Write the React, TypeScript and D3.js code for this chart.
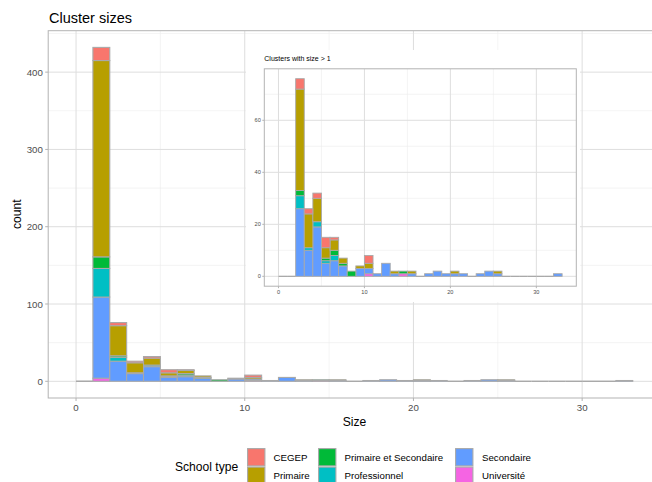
import React from "react";
import * as d3 from "d3";

// bins [k, k+1] for k = 0..32, holding clusters of size k
const binStarts: number[] = d3.range(0, 33);
const types = ["CEGEP", "Primaire", "Primaire et Secondaire", "Professionnel", "Secondaire", "Université"];
const colors = ["#F8766D", "#B79F00", "#00BA38", "#00BFC4", "#619CFF", "#F564E3"];

const cegep = [0,17,4,2,2,4,1,0,0,0,3,0,0,0,0,0,0,0,0,0,0,0,0,0,0,0,0,0,0,0,0,0,0];
const primaire = [0,254,39,13,9,4,4,2,0,1,2,0,0,1,0,1,0,0,0,0,1,0,0,0,0,1,0,0,0,0,0,0,0];
const primSec = [0,15,2,0,0,1,2,1,2,0,0,0,0,0,1,0,0,0,0,0,0,0,0,0,0,0,0,0,0,0,0,0,0];
const professionnel = [0,37,5,1,2,1,2,0,0,0,0,0,0,0,0,0,0,0,0,0,0,0,0,0,0,0,0,0,0,0,0,0,0];
const secondaire = [0,105,26,10,19,5,6,4,0,3,2,1,5,1,0,1,0,1,2,1,1,1,0,1,2,1,0,0,0,0,0,0,1];
const universite = [0,4,0,0,0,0,0,0,0,0,1,0,0,0,1,0,0,0,0,0,0,0,0,0,0,0,0,0,0,0,0,0,0];

const series = [cegep, primaire, primSec, professionnel, secondaire, universite];

const xTicks = [0, 10, 20, 30];
const xMinor = [5, 15, 25];
const mainYTicks = [0, 100, 200, 300, 400];
const mainYMinor = [50, 150, 250, 350, 450];
const insetYTicks = [0, 20, 40, 60];
const insetYMinor = [10, 30, 50, 70];

const FONT = "'Liberation Sans', Arial, Helvetica, sans-serif";
const STROKE = "#A9A9A9";

type PanelProps = {
  minSize: number;
  left: number; right: number; top: number; bottom: number;
  yMax: number;
  yTicks: number[]; yMinor: number[];
  tickFont: number; tickLen: number; tickGap: number;
  strokeW: number;
};

function Panel(p: PanelProps) {
  const rows = binStarts.map((b, i) => {
    const r: any = { bin: b };
    types.forEach((t, j) => { r[t] = b >= p.minSize ? series[j][i] : 0; });
    return r;
  });
  const stackKeys = [...types].reverse();
  const stacked = d3.stack<any>().keys(stackKeys)(rows);
  const x = d3.scaleLinear().domain([-0.05 * 33, 33 * 1.05]).range([p.left, p.right]);
  const y = d3.scaleLinear().domain([-0.05 * p.yMax, 1.05 * p.yMax]).range([p.bottom, p.top]);
  const clipId = "clip" + p.minSize;
  return (
    <g>
      <defs>
        <clipPath id={clipId}>
          <rect x={p.left} y={p.top} width={p.right - p.left} height={p.bottom - p.top} />
        </clipPath>
      </defs>
      <rect x={p.left} y={p.top} width={p.right - p.left} height={p.bottom - p.top} fill="white" />
      <g clipPath={`url(#${clipId})`}>
        {xMinor.map((v) => (
          <line key={"xm" + v} x1={x(v)} x2={x(v)} y1={p.top} y2={p.bottom} stroke="#EDEDED" strokeWidth={0.6} />
        ))}
        {p.yMinor.map((v) => (
          <line key={"ym" + v} x1={p.left} x2={p.right} y1={y(v)} y2={y(v)} stroke="#EDEDED" strokeWidth={0.6} />
        ))}
        {xTicks.map((v) => (
          <line key={"xM" + v} x1={x(v)} x2={x(v)} y1={p.top} y2={p.bottom} stroke="#DEDEDE" strokeWidth={1} />
        ))}
        {p.yTicks.map((v) => (
          <line key={"yM" + v} x1={p.left} x2={p.right} y1={y(v)} y2={y(v)} stroke="#DEDEDE" strokeWidth={1} />
        ))}
        {stacked.map((s) => {
          const ti = types.indexOf(s.key);
          return s.map((d, i) => {
            const v = d[1] - d[0];
            if (v <= 0) return null;
            return (
              <rect key={s.key + i} x={x(rows[i].bin)} width={x(rows[i].bin + 1) - x(rows[i].bin)}
                y={y(d[1])} height={y(d[0]) - y(d[1])} fill={colors[ti]} stroke={STROKE} strokeWidth={p.strokeW} />
            );
          });
        })}
        {rows.map((r, i) => {
          const total = types.reduce((a, t) => a + r[t], 0);
          if (total > 0) return null;
          return (
            <line key={"z" + i} x1={x(r.bin)} x2={x(r.bin + 1)} y1={y(0)} y2={y(0)} stroke={STROKE} strokeWidth={p.strokeW * 1.3} />
          );
        })}
      </g>
      <rect x={p.left} y={p.top} width={p.right - p.left} height={p.bottom - p.top} fill="none" stroke="#B3B3B3" strokeWidth={1} />
      {xTicks.map((v) => (
        <g key={"xt" + v}>
          <line x1={x(v)} x2={x(v)} y1={p.bottom} y2={p.bottom + p.tickLen} stroke="#B3B3B3" strokeWidth={1} />
          <text x={x(v)} y={p.bottom + p.tickLen + p.tickGap + p.tickFont * 0.75} textAnchor="middle"
            fontSize={p.tickFont} fill="#4D4D4D" fontFamily={FONT}>{v}</text>
        </g>
      ))}
      {p.yTicks.map((v) => (
        <g key={"yt" + v}>
          <line x1={p.left - p.tickLen} x2={p.left} y1={y(v)} y2={y(v)} stroke="#B3B3B3" strokeWidth={1} />
          <text x={p.left - p.tickLen - p.tickGap} y={y(v) + p.tickFont * 0.36} textAnchor="end"
            fontSize={p.tickFont} fill="#4D4D4D" fontFamily={FONT}>{v}</text>
        </g>
      ))}
    </g>
  );
}

export default function App() {
  const keySize = 18.5;
  const legendCols = [
    { keyX: 247, labelX: 273.5 },
    { keyX: 318, labelX: 344.5 },
    { keyX: 455, labelX: 482 },
  ];
  const legendRowY = [448, 466.5];
  return (
    <svg width={652} height={482} style={{ position: "absolute", left: 0, top: 0 }} fontFamily={FONT}>
      <rect x={0} y={0} width={652} height={482} fill="white" />
      <text x={49} y={22.5} fontSize={14.5} fill="#000">Cluster sizes</text>
      <Panel minSize={0} left={48.2} right={660.6} top={30.7} bottom={398} yMax={432}
        yTicks={mainYTicks} yMinor={mainYMinor} tickFont={9.7} tickLen={3} tickGap={2.4} strokeW={1.1} />
      <text x={354.4} y={426} fontSize={12.1} textAnchor="middle" fill="#000">Size</text>
      <text transform="translate(21,214.3) rotate(-90)" fontSize={12.1} textAnchor="middle" fill="#000">count</text>

      {/* inset */}
      <rect x={246} y={50} width={334} height={252} fill="white" />
      <text x={264.3} y={60.5} fontSize={7} fill="#000">Clusters with size &gt; 1</text>
      <Panel minSize={2} left={264.3} right={576.3} top={68.8} bottom={286.2} yMax={76}
        yTicks={insetYTicks} yMinor={insetYMinor} tickFont={5.6} tickLen={2} tickGap={1.5} strokeW={0.9} />

      {/* legend */}
      <text x={175} y={470.5} fontSize={12.1} fill="#000">School type</text>
      {types.map((t, i) => {
        const col = legendCols[Math.floor(i / 2)];
        const ry = legendRowY[i % 2];
        return (
          <g key={t}>
            <rect x={col.keyX + 0.6} y={ry + 0.6} width={keySize - 1.2} height={keySize - 1.2}
              fill={colors[i]} stroke={STROKE} strokeWidth={1.1} />
            <text x={col.labelX} y={ry + keySize / 2 + 3.5} fontSize={9.7} fill="#000">{t}</text>
          </g>
        );
      })}
    </svg>
  );
}
